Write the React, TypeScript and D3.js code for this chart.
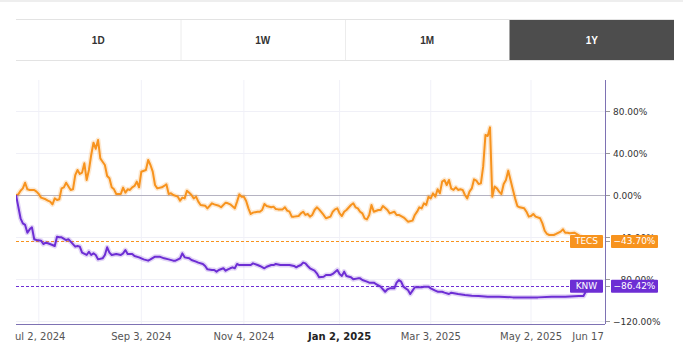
import React, { useEffect } from "react";
import * as d3 from "d3";

// range buttons above the chart
const tabs = ["1D", "1W", "1M", "1Y"];
const activeTab = "1Y";

// y axis (percent change)
const yTicks = [80, 40, 0, -40, -80, -120];

// x axis: trading-day index from Jun 17, 2024
const xTickDays = [10, 55, 100, 142, 182, 226, 251];
const xTickLabels = ["Jul 2, 2024", "Sep 3, 2024", "Nov 4, 2024", "Jan 2, 2025", "Mar 3, 2025", "May 2, 2025", "Jun 17"];
const boldTick = "Jan 2, 2025";

// [trading day, % change]
const tecs: [number, number][] = [
  [0, 0], [1, 0.6], [2, 4], [3, 6.3], [4, 11.7], [5, 5.4], [6, 4.8], [8, 4.8], [9, 3.2], [10, 1],
  [11, -2.5], [13, -4.1], [14, -5.4], [15, -6.3], [16, -8.9], [17, -3.2], [18, -4.8], [19, -4.1], [20, 6.3],
  [21, 7.3], [22, 11.7], [24, 4.8], [25, 5.4], [26, 19], [27, 23.8], [28, 20], [29, 21.3], [30, 30.2],
  [31, 14.3], [32, 23.8], [33, 38.1], [34, 49.8], [35, 44], [36, 52.4], [37, 34.9], [38, 31.7], [39, 28.6],
  [40, 18.1], [41, 15.9], [42, 7.3], [43, 5.4], [44, 1], [46, 1], [47, 7], [48, 2.2], [49, 5.4], [50, 4.8],
  [51, 7.3], [52, 8.6], [53, 12.7], [54, 7.3], [55, 22.2], [57, 23.8], [58, 33.3], [59, 28.6], [60, 22.2],
  [61, 9.5], [62, 6.3], [64, 7.3], [65, 8.6], [66, 10.2], [67, 1], [68, 1.6], [69, 0], [71, -1.6], [72, -5.4],
  [73, -2.5], [74, -3.2], [75, 4.1], [76, 2.2], [77, 0], [78, -3.2], [79, -1.6], [80, -6.3], [81, -9.5],
  [83, -10.2], [84, -12.7], [86, -7.9], [87, -8.9], [89, -10.2], [90, -11.7], [92, -7.3], [93, -7.9],
  [94, -8.9], [96, -12.7], [97, -6.3], [98, 0.6], [99, -1.6], [100, -1.6], [101, -5.7], [102, -12.7],
  [103, -18.1], [104, -16.8], [106, -15.9], [107, -15.9], [108, -14.3], [109, -8.6], [110, -10.5],
  [112, -11.7], [113, -11.1], [114, -13.3], [115, -13.7], [117, -13.7], [118, -11.7], [119, -14.9],
  [120, -15.9], [121, -20.6], [122, -20.6], [124, -20], [125, -17.5], [126, -15.9], [127, -19], [128, -18.1],
  [129, -20.6], [130, -19], [131, -14.3], [132, -11.7], [133, -13.7], [135, -19], [136, -22.2], [138, -20.6],
  [139, -15.9], [140, -13.7], [141, -12.7], [142, -17.5], [143, -20], [144, -15.9], [145, -14.3], [147, -9.5],
  [148, -7.9], [149, -11.7], [150, -12.7], [151, -15.9], [152, -17.5], [153, -22.2], [154, -23.2], [155, -19],
  [156, -9.5], [157, -15.9], [159, -14.3], [160, -14.3], [161, -10.5], [163, -14.3], [164, -17.5],
  [166, -15.9], [167, -19], [168, -19], [170, -21.3], [171, -23.2], [172, -25.4], [174, -24.4], [175, -19],
  [176, -15.9], [177, -11.7], [178, -12.7], [179, -7.9], [180, -9.5], [181, -1.6], [182, -3.2], [183, 1.6],
  [184, -1.6], [185, 5.4], [186, 1.6], [187, 12.7], [188, 14.3], [189, 9.5], [190, 14.3], [191, 6], [192, 4.8],
  [193, 7.3], [194, 4.8], [195, 5.4], [196, 4.8], [197, 0], [198, -3.2], [199, 3.2], [200, 6.3], [201, 14.9],
  [202, 13.7], [203, 10.5], [204, 11.1], [205, 27], [206, 57.1], [207, 56.2], [208, 64.4], [209, -1.6],
  [210, 8], [211, 6.3], [212, 3.2], [213, 1], [214, 10.5], [215, 14.3], [216, 23.2], [217, 14.3], [218, 5.4],
  [219, -3.2], [220, -10.5], [221, -11.7], [223, -12.7], [224, -15.9], [225, -20.6], [226, -20], [227, -18.1],
  [228, -20.6], [230, -22.2], [231, -27], [232, -34], [233, -37.1], [234, -38.1], [236, -38.1], [237, -37.1],
  [239, -34.9], [240, -32.7], [241, -35.9], [242, -35.9], [243, -36.5], [245, -35.9], [247, -38.5],
  [249, -41.5], [251, -43.7],
];

const knw: [number, number][] = [
  [0, 0], [1, -11.1], [2, -22.2], [3, -27], [4, -28.5], [5, -35.9], [6, -32.7], [7, -30.8], [8, -42.2],
  [9, -42.9], [11, -43.5], [12, -46.7], [13, -45.4], [14, -46], [16, -47.6], [17, -48.6], [18, -39.7],
  [19, -40.3], [20, -40.3], [22, -42.9], [23, -42.2], [24, -44.4], [26, -49.2], [27, -48.6], [28, -49.2],
  [29, -54.9], [31, -57.1], [32, -54], [33, -57.1], [34, -55.6], [35, -57.1], [36, -61.3], [38, -60.3],
  [39, -57.1], [40, -49.8], [41, -54.9], [42, -57.1], [44, -56.2], [46, -57.1], [47, -55.6], [48, -52.4],
  [49, -56.2], [51, -56.2], [52, -58.1], [54, -59.4], [56, -61.3], [58, -62.5], [59, -61.3], [61, -58.7],
  [63, -58.7], [65, -60.3], [67, -61.3], [69, -62.5], [70, -62.5], [72, -60.3], [73, -55.6], [74, -59.4],
  [76, -60.3], [77, -61.9], [79, -63.5], [80, -64.4], [82, -65.7], [83, -67.6], [84, -70.8], [86, -71.4],
  [87, -71.4], [88, -73], [89, -71.4], [91, -69.8], [92, -72.1], [93, -70.8], [94, -69.8], [95, -68.9],
  [96, -69.8], [97, -65.7], [98, -66.7], [100, -66.7], [101, -66.7], [103, -66.7], [104, -65.1], [106, -66.7],
  [107, -67.6], [109, -69.8], [110, -68.3], [112, -66.7], [113, -66.7], [114, -65.7], [116, -66.7],
  [117, -66.7], [119, -66.7], [120, -66.7], [122, -67.6], [123, -68.9], [124, -67.6], [125, -66.7],
  [126, -64.4], [127, -65.1], [128, -67.6], [129, -69.8], [131, -72.1], [132, -74.6], [133, -78.4],
  [135, -77.8], [136, -76.2], [138, -76.2], [139, -75.2], [141, -71.4], [142, -75.2], [143, -77.1], [144, -73],
  [145, -77.1], [147, -78.4], [148, -80.3], [150, -79.4], [151, -79.4], [152, -81], [154, -82.5], [155, -83.5],
  [157, -83.5], [158, -84.8], [160, -87.3], [161, -89.8], [162, -92.1], [163, -89.8], [164, -88.9],
  [166, -88.9], [167, -83.5], [168, -81], [169, -82.5], [170, -87.3], [171, -88.9], [172, -90.5], [173, -94.3],
  [174, -91.1], [175, -87.9], [177, -87.9], [178, -87.9], [179, -87.3], [181, -87.3], [182, -88.9],
  [184, -91.1], [185, -92.1], [187, -92.1], [188, -93], [190, -94.3], [191, -93], [194, -94.3], [197, -95.2],
  [200, -95.9], [203, -96.2], [207, -96.8], [212, -96.8], [218, -97.5], [223, -97.5], [229, -97.5],
  [235, -96.8], [241, -96.8], [247, -96.2], [249, -96.2], [250, -92], [251, -86.42],
];

const seriesNames = ["TECS", "KNW"];
const seriesColors = ["#f7931e", "#6d2ed4"];
const lastValues = [-43.7, -86.42];

const W = 683;
const H = 362;
const plot = { left: 16, right: 605, top: 80, bottom: 324 };
const font = "'DejaVu Sans', Verdana, sans-serif";

const fmt = (v: number) => (v < 0 ? "\u2212" : "") + Math.abs(v).toFixed(2) + "%";

export default function App() {
  useEffect(() => {
    document.body.style.margin = "0";
    document.body.style.background = "#fff";
  }, []);

  const x = d3.scaleLinear().domain([0, 251]).range([16, 588]);
  const y = d3.scaleLinear().domain([-120, 80]).range([321, 111]);

  const line = d3
    .line<[number, number]>()
    .x((d) => x(d[0]))
    .y((d) => y(d[1]));

  const tabX = d3.scaleBand<string>().domain(tabs).range([16, 674]);

  const allSeries = [tecs, knw];

  return (
    <svg width={W} height={H} style={{ display: "block" }}>
      <defs>
        <clipPath id="plotClip">
          <rect x={plot.left} y={plot.top} width={plot.right - plot.left} height={plot.bottom - plot.top} />
        </clipPath>
        <clipPath id="xLabelClip">
          <rect x={plot.left - 1} y={plot.bottom} width={plot.right - plot.left + 1} height={30} />
        </clipPath>
      </defs>

      <line x1={0} x2={W} y1={1} y2={1} stroke="#eeeeee" strokeWidth={2} />

      {/* range tabs */}
      <g>
        <line x1={16} x2={674} y1={19.5} y2={19.5} stroke="#e3e3e3" />
        <line x1={16} x2={674} y1={60.5} y2={60.5} stroke="#e3e3e3" />
        {tabs.map((t) => {
          const tx = tabX(t)!;
          const active = t === activeTab;
          return (
            <g key={t}>
              {active && <rect x={tx} y={20} width={tabX.bandwidth()} height={40} fill="#4d4d4d" />}
              {tx > 16 && !active && <line x1={tx + 0.5} x2={tx + 0.5} y1={20} y2={60} stroke="#ececec" />}
              <text
                x={tx + tabX.bandwidth() / 2}
                y={44}
                textAnchor="middle"
                fontFamily="Arial, 'Liberation Sans', sans-serif"
                fontWeight="bold"
                fontSize={10}
                fill={active ? "#ffffff" : "#333333"}
              >
                {t}
              </text>
            </g>
          );
        })}
      </g>

      {/* grid */}
      {xTickDays.slice(0, -1).map((d) => (
        <line key={d} x1={x(d)} x2={x(d)} y1={plot.top} y2={plot.bottom} stroke="#f1f1f8" />
      ))}
      {yTicks.map((t) => (
        <line
          key={t}
          x1={plot.left}
          x2={plot.right}
          y1={Math.round(y(t)) + 0.5}
          y2={Math.round(y(t)) + 0.5}
          stroke={t === 0 ? "#b5b3c2" : "#f0f0f7"}
        />
      ))}

      {/* last value guides */}
      {lastValues.map((v, i) => (
        <line
          key={seriesNames[i]}
          x1={plot.left}
          x2={570}
          y1={Math.round(y(v)) + 0.5}
          y2={Math.round(y(v)) + 0.5}
          stroke={seriesColors[i]}
          strokeDasharray="3,2"
        />
      ))}

      {/* series */}
      <g clipPath="url(#plotClip)">
        {allSeries.map((s, i) => (
          <g key={seriesNames[i]}>
            <path d={line(s)!} fill="none" stroke={seriesColors[i]} strokeOpacity={0.2} strokeWidth={5} strokeLinejoin="round" />
            <path d={line(s)!} fill="none" stroke={seriesColors[i]} strokeWidth={2} strokeLinejoin="round" />
          </g>
        ))}
      </g>

      {/* axes */}
      <line x1={plot.right + 0.5} x2={plot.right + 0.5} y1={plot.top} y2={plot.bottom} stroke="#7e72b3" />
      <line x1={plot.left} x2={plot.right} y1={plot.bottom + 0.5} y2={plot.bottom + 0.5} stroke="#7e72b3" />

      {yTicks.map((t) => (
        <g key={t}>
          <line x1={606} x2={610} y1={Math.round(y(t)) + 0.5} y2={Math.round(y(t)) + 0.5} stroke="#999" />
          <text x={613} y={y(t) + 3.5} fontFamily={font} fontSize={9} fill="#333">
            {fmt(t)}
          </text>
        </g>
      ))}

      <g clipPath="url(#xLabelClip)">
        {xTickDays.map((d, i) => (
          <text
            key={d}
            x={x(d)}
            y={340}
            textAnchor="middle"
            fontFamily={font}
            fontSize={10}
            fontWeight={xTickLabels[i] === boldTick ? "bold" : "normal"}
            fill={xTickLabels[i] === boldTick ? "#222" : "#555"}
          >
            {xTickLabels[i]}
          </text>
        ))}
      </g>

      {/* last value labels */}
      {lastValues.map((v, i) => {
        const cy = y(v);
        return (
          <g key={seriesNames[i]}>
            <rect x={570} y={cy - 6} width={33} height={13} rx={1} fill={seriesColors[i]} />
            <text x={586.5} y={cy + 3.5} textAnchor="middle" fontFamily={font} fontSize={9} fill="#fff">
              {seriesNames[i]}
            </text>
            <line x1={606} x2={610} y1={Math.round(cy) + 0.5} y2={Math.round(cy) + 0.5} stroke="#999" />
            <rect x={611} y={cy - 6} width={47} height={13} rx={1} fill={seriesColors[i]} />
            <text x={634.5} y={cy + 3.5} textAnchor="middle" fontFamily={font} fontSize={9} fill="#fff">
              {fmt(v)}
            </text>
          </g>
        );
      })}
    </svg>
  );
}
